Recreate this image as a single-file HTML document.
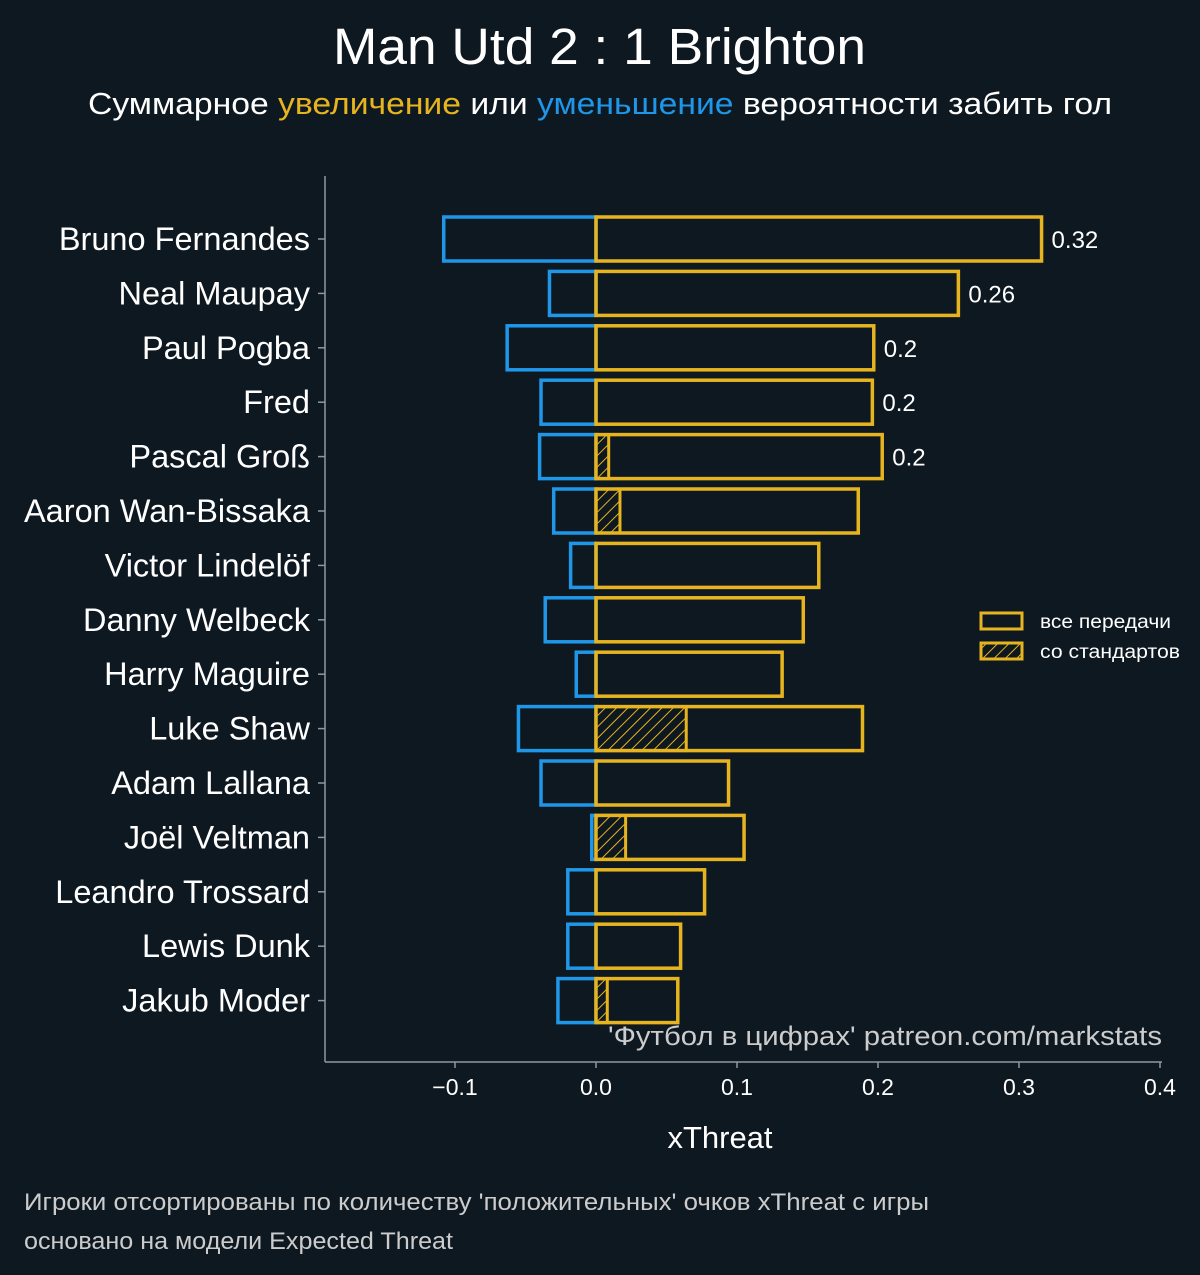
<!DOCTYPE html>
<html><head><meta charset="utf-8"><style>
body{margin:0;background:#0e1821;}
svg{display:block;font-family:"Liberation Sans","DejaVu Sans",sans-serif;}
</style></head><body>
<svg id="chart" width="1200" height="1275">
<defs><pattern id="hatch" patternUnits="userSpaceOnUse" width="8" height="8" patternTransform="rotate(45)"><rect width="8" height="8" fill="#0e1821"/><line x1="0" y1="0" x2="0" y2="8" stroke="#e6b41e" stroke-width="2"/></pattern></defs>
<rect width="1200" height="1275" fill="#0e1821"/>
<text x="333" y="64" textLength="533" lengthAdjust="spacingAndGlyphs" fill="#fff" font-size="51">Man Utd 2 : 1 Brighton</text>
<text x="88" y="114" textLength="1024" lengthAdjust="spacingAndGlyphs" fill="#fff" font-size="31">Суммарное <tspan fill="#e6b41e">увеличение</tspan> или <tspan fill="#1f96e8">уменьшение</tspan> вероятности забить гол</text>
<g id="plot"></g>
<text x="720" y="1148" text-anchor="middle" fill="#fff" font-size="31">xThreat</text>
<text x="608" y="1045" textLength="554" lengthAdjust="spacingAndGlyphs" fill="#ccc" font-size="27">'Футбол в цифрах' patreon.com/markstats</text>
<g>
<rect x="981" y="613" width="41" height="16" fill="none" stroke="#e6b41e" stroke-width="3"/>
<text x="1040" y="628" textLength="131" lengthAdjust="spacingAndGlyphs" fill="#fff" font-size="19">все передачи</text>
<rect x="981" y="643" width="41" height="16" fill="url(#hatch)" stroke="#e6b41e" stroke-width="3"/>
<text x="1040" y="658" textLength="140" lengthAdjust="spacingAndGlyphs" fill="#fff" font-size="19">со стандартов</text>
</g>
<text x="24" y="1210" textLength="905" lengthAdjust="spacingAndGlyphs" fill="#ccc" font-size="24">Игроки отсортированы по количеству 'положительных' очков xThreat с игры</text>
<text x="24" y="1249" textLength="429" lengthAdjust="spacingAndGlyphs" fill="#ccc" font-size="24">основано на модели Expected Threat</text>
</svg>
<script>
const players=["Bruno Fernandes","Neal Maupay","Paul Pogba","Fred","Pascal Groß","Aaron Wan-Bissaka","Victor Lindelöf","Danny Welbeck","Harry Maguire","Luke Shaw","Adam Lallana","Joël Veltman","Leandro Trossard","Lewis Dunk","Jakub Moder"];
const positive=[0.316,0.257,0.197,0.196,0.203,0.186,0.158,0.147,0.132,0.189,0.094,0.105,0.077,0.060,0.058];
const negative=[-0.108,-0.033,-0.063,-0.039,-0.040,-0.030,-0.018,-0.036,-0.014,-0.055,-0.039,-0.003,-0.020,-0.020,-0.027];
const setPiece=[0,0,0,0,0.009,0.017,0,0,0,0.064,0,0.021,0,0,0.008];
const valueLabels=["0.32","0.26","0.2","0.2","0.2"];
const xTicks=[-0.1,0,0.1,0.2,0.3,0.4];
const xTickLabels=["−0.1","0.0","0.1","0.2","0.3","0.4"];
const NS="http://www.w3.org/2000/svg";
const g=document.getElementById('plot');
const x=v=>596+v*1410;
const y=i=>239+i*54.4;
const bh=44;
function mk(t,a){const e=document.createElementNS(NS,t);for(const k in a)e.setAttribute(k,a[k]);g.appendChild(e);return e;}
let e=mk('line',{x1:325,y1:176,x2:325,y2:1062,stroke:'#8a99a3','stroke-width':1.5});


e=mk('line',{x1:325,y1:1062,x2:1162,y2:1062,stroke:'#8a99a3','stroke-width':1.5});


xTicks.forEach((t,i)=>{
 let l=mk('line',{x1:x(t),y1:1062,x2:x(t),y2:1068,stroke:'#8a99a3','stroke-width':1.5});
 
 
 let tx=mk('text',{x:x(t),y:1095,'text-anchor':'middle',fill:'#fff','font-size':23});
 tx.textContent=xTickLabels[i];
 
 
});
players.forEach((p,i)=>{
 const cy=y(i);
 let l=mk('line',{x1:318,y1:cy,x2:325,y2:cy,stroke:'#8a99a3','stroke-width':1.5});
 
 
 let t=mk('text',{x:310,y:cy+11,'text-anchor':'end',fill:'#fff','font-size':32.5});
 t.textContent=p;
 
 
 let n=mk('rect',{x:x(negative[i]),y:cy-bh/2,width:x(0)-x(negative[i]),height:bh,fill:'none',stroke:'#1f96e8','stroke-width':3.5});
 
 
 if(setPiece[i]>0){
  let s=mk('rect',{x:x(0),y:cy-bh/2,width:x(setPiece[i])-x(0),height:bh,fill:'url(#hatch)',stroke:'#e6b41e','stroke-width':3});
  
  
 }
 let r=mk('rect',{x:x(0),y:cy-bh/2,width:x(positive[i])-x(0),height:bh,fill:'none',stroke:'#e6b41e','stroke-width':3.5});
 
 
 if(i<valueLabels.length){
  let v=mk('text',{x:x(positive[i])+10,y:cy+9,fill:'#fff','font-size':24});
  v.textContent=valueLabels[i];
  
  
 }
});
</script>
</body></html>
